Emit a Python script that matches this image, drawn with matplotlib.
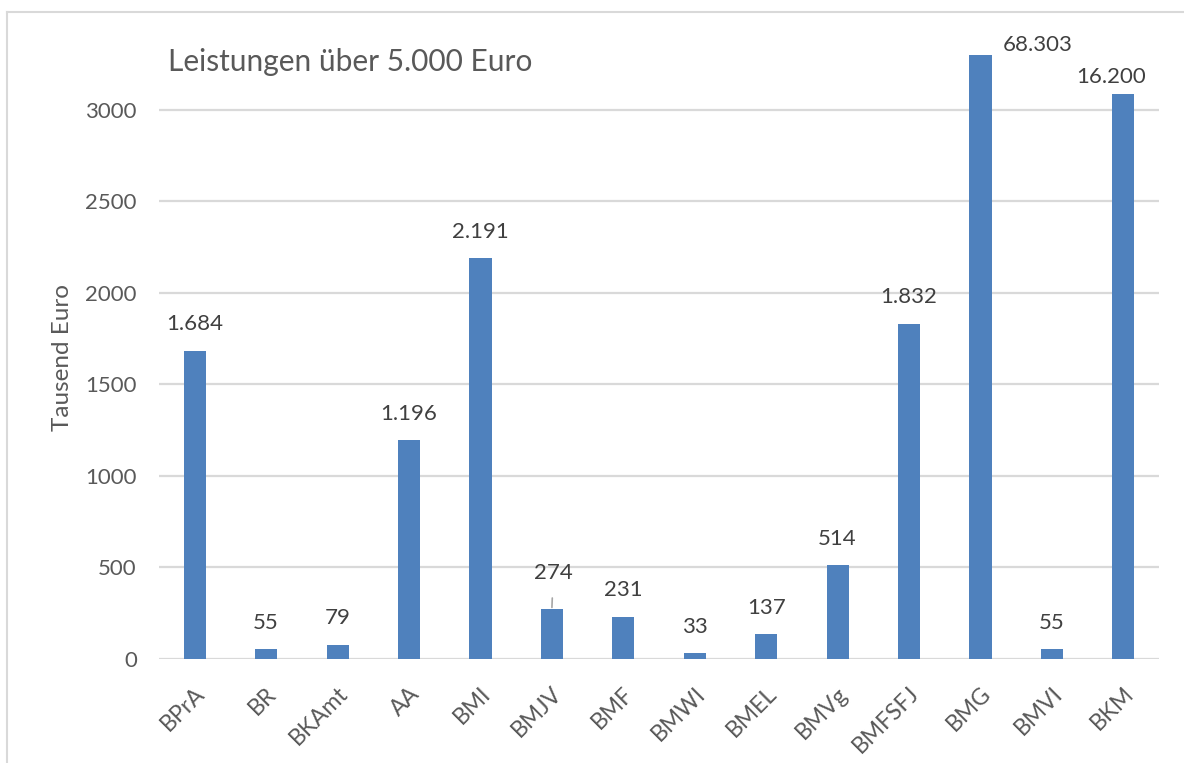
import matplotlib
matplotlib.use("Agg")
import matplotlib.pyplot as plt
from matplotlib.lines import Line2D
from matplotlib.transforms import ScaledTranslation

# ministries / departments
categories = ["BPrA", "BR", "BKAmt", "AA", "BMI", "BMJV", "BMF", "BMWI",
              "BMEL", "BMVg", "BMFSFJ", "BMG", "BMVI", "BKM"]
# bar heights as drawn (BMG and BKM are cut off in the original chart)
heights = [1684, 55, 79, 1196, 2191, 274, 231, 33, 137, 514, 1832, 3300, 55, 3087]
# label text (Tausend Euro, German thousands separator)
labels = ["1.684", "55", "79", "1.196", "2.191", "274", "231", "33",
          "137", "514", "1.832", "68.303", "55", "16.200"]

# label offsets in points (dx, dy) from the bar top; most sit centred above
LABEL_OFFSET = {5: (1, 26), 11: (41, 7), 13: (-9, 12)}
DEFAULT_OFFSET = (0, 19)

BAR_COLOR = "#4F81BD"
GRID_COLOR = "#D9D9D9"
TEXT_COLOR = "#595959"
LABEL_COLOR = "#404040"
FS = 16

plt.rcParams["font.family"] = ["Lato", "DejaVu Sans"]

fig = plt.figure(figsize=(11.84, 7.63), dpi=100)
ax = fig.add_axes([0.1343, 0.1363, 0.8446, 0.7916])

x = list(range(len(categories)))
ax.bar(x, heights, width=0.31, color=BAR_COLOR, zorder=3)

ax.set_xlim(-0.5, len(categories) - 0.5)
ax.set_ylim(0, 3300)
ax.set_yticks([0, 500, 1000, 1500, 2000, 2500, 3000])
ax.grid(True, axis="y", color=GRID_COLOR, linewidth=1.6, zorder=0)
for s in ax.spines.values():
    s.set_visible(False)
ax.axhline(0, color=GRID_COLOR, linewidth=1.8, zorder=2)

ax.tick_params(axis="y", length=0, pad=16, labelsize=FS, labelcolor=TEXT_COLOR)
ax.tick_params(axis="x", length=0, pad=19, labelsize=16.5, labelcolor=TEXT_COLOR)
ax.set_xticks(x)
ax.set_xticklabels(categories, rotation=45, ha="right", va="center",
                   rotation_mode="anchor")
# nudge rotated labels a little right/down, like the Excel original
shift = ScaledTranslation(7 / 100, -5 / 100, fig.dpi_scale_trans)
for t in ax.get_xticklabels():
    t.set_transform(t.get_transform() + shift)

ax.set_ylabel("Tausend Euro", fontsize=17.5, color=TEXT_COLOR, labelpad=9)

for i, (h, lab) in enumerate(zip(heights, labels)):
    dx, dy = LABEL_OFFSET.get(i, DEFAULT_OFFSET)
    arrow = None
    if i == 5:
        arrow = dict(arrowstyle="-", color="#A6A6A6", lw=1.2,
                     shrinkA=9, shrinkB=1)
    ax.annotate(lab, (i, h), xytext=(dx, dy), textcoords="offset points",
                ha="center", va="center", fontsize=FS, color=LABEL_COLOR,
                arrowprops=arrow, annotation_clip=False, zorder=4)

fig.text(168 / 1184, 1 - 62 / 763, "Leistungen über 5.000 Euro",
         fontsize=21.5, color=TEXT_COLOR, ha="left", va="center")

# chart area border (only left and top edge visible in the crop)
fig.add_artist(Line2D([7 / 1184, 7 / 1184], [0, 1 - 12 / 763],
                      color=GRID_COLOR, lw=1.5, transform=fig.transFigure))
fig.add_artist(Line2D([7 / 1184, 1], [1 - 12 / 763, 1 - 12 / 763],
                      color=GRID_COLOR, lw=1.5, transform=fig.transFigure))

fig.savefig("out.png", dpi=100)
